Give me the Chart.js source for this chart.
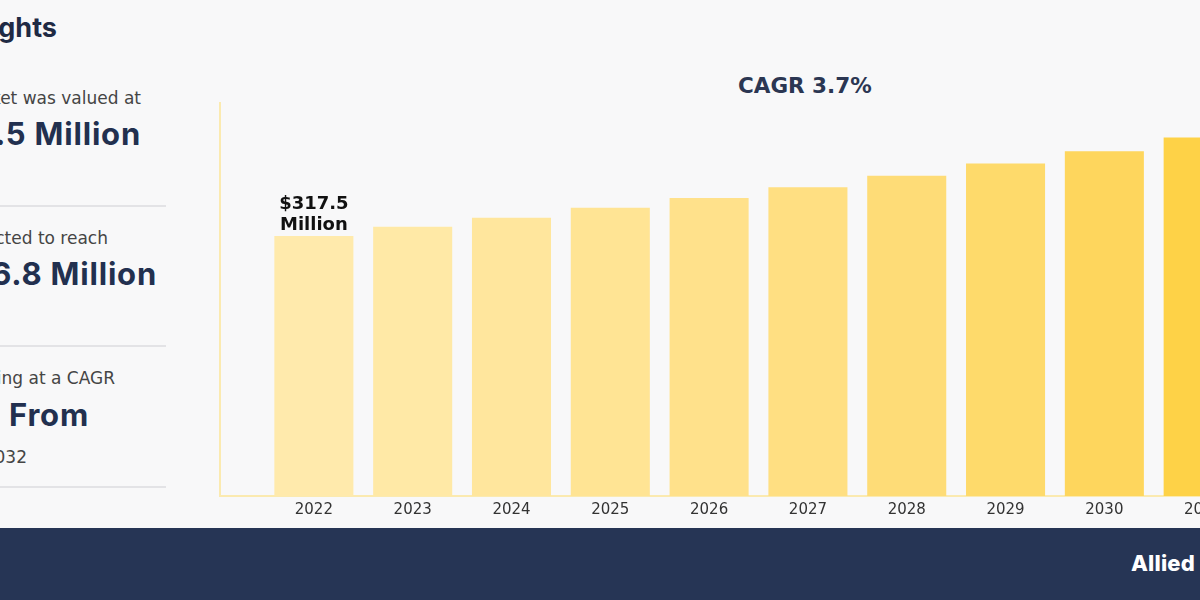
<!DOCTYPE html>
<html>
<head>
<meta charset="utf-8">
<script src="https://cdn.jsdelivr.net/npm/chart.js@4.4.1/dist/chart.umd.min.js"></script>
<style>
  html, body { margin: 0; padding: 0; }
  body { width: 1200px; height: 600px; overflow: hidden; position: relative; background: #f8f8f9; font-family: 'Inter', 'Open Sans', sans-serif; }
  .txt { position: absolute; white-space: nowrap; text-align: right; }
  .title { font-size: 27px; font-weight: 700; color: #1f2a44; }
  .lbl { font-size: 17px; color: #454545; font-family: 'DejaVu Sans', sans-serif; }
  .big { font-size: 31px; font-weight: 700; color: #22304f; letter-spacing: 0.8px; }
  .sep { position: absolute; left: 0; width: 166px; height: 2px; background: #e3e3e6; }
  #chartBox { position: absolute; left: 172px; top: 60px; width: 1128px; height: 464px; }
  #cagr { position: absolute; left: 738px; top: 73px; font-family: 'DejaVu Sans', sans-serif; font-weight: 700; font-size: 21.5px; color: #2b3652; }
  #footer { position: absolute; left: 0; top: 528px; width: 1200px; height: 72px; background: #263555; }
  #brand { position: absolute; right: 5px; top: 22px; color: #fff; font-weight: 800; font-size: 22px; font-family: 'Inter', sans-serif; letter-spacing: 0.2px; }
</style>
</head>
<body>
<div class="txt title" style="right:1143px; top:11px;">Key Market Insights</div>
<div class="txt lbl" style="right:1059px; top:88px;">The market was valued at</div>
<div class="txt big" style="right:1059px; top:115px;">$317.5 Million</div>
<div class="sep" style="top:205px;"></div>
<div class="txt lbl" style="right:1092px; top:228px;">and is projected to reach</div>
<div class="txt big" style="right:1043px; top:255px;">$456.8 Million</div>
<div class="sep" style="top:345px;"></div>
<div class="txt lbl" style="right:1085px; top:368px;">growing at a CAGR</div>
<div class="txt big" style="right:1111px; top:396px;">3.7% From</div>
<div class="txt lbl" style="right:1173px; top:447px;">2023 to 2032</div>
<div class="sep" style="top:486px;"></div>

<div id="cagr">CAGR 3.7%</div>
<div id="chartBox"><canvas id="c"></canvas></div>

<div id="footer"><div id="brand">Allied</div></div>

<script>
const years = [2022, 2023, 2024, 2025, 2026, 2027, 2028, 2029, 2030, 2031];
const marketValue = [317.5, 329, 340, 352, 364, 377, 391, 406, 421, 438];
const barColors = ['#ffeaac', '#ffe9a6', '#ffe69d', '#ffe494', '#ffe18b', '#ffdf82', '#fedc77', '#feda6b', '#fed65d', '#fed247'];
const firstLabel = ['$317.5', 'Million'];

const labelPlugin = {
  id: 'firstLabel',
  afterDatasetsDraw(chart) {
    const bar = chart.getDatasetMeta(0).data[0];
    const ctx = chart.ctx;
    ctx.save();
    ctx.font = 'bold 18px "DejaVu Sans"';
    ctx.fillStyle = '#111';
    ctx.textAlign = 'center';
    ctx.textBaseline = 'bottom';
    ctx.fillText(firstLabel[0], bar.x, bar.y - 23);
    ctx.fillText(firstLabel[1], bar.x, bar.y - 2);
    ctx.restore();
  }
};

new Chart(document.getElementById('c'), {
  type: 'bar',
  data: {
    datasets: [{
      data: years.map((y, i) => ({ x: y, y: marketValue[i] })),
      backgroundColor: barColors,
      borderWidth: 0,
      categoryPercentage: 1,
      barPercentage: 0.8
    }]
  },
  options: {
    responsive: true,
    maintainAspectRatio: false,
    animation: false,
    layout: { padding: { left: 48, right: 0, top: 43, bottom: 0 } },
    plugins: { legend: { display: false }, tooltip: { enabled: false } },
    scales: {
      x: {
        type: 'linear',
        offset: false,
        min: 2021.05,
        max: 2031.98,
        afterBuildTicks(axis) { axis.ticks = years.map(v => ({ value: v })); },
        grid: { display: false, drawTicks: false, offset: false },
        border: { color: '#fbeab0', width: 2 },
        ticks: {
          padding: 5,
          color: '#333',
          font: { family: 'DejaVu Sans', size: 15 },
          callback: v => String(v)
        }
      },
      y: {
        min: 0,
        max: 480,
        grid: { display: false, drawTicks: false },
        border: { color: '#fbeab0', width: 2 },
        ticks: { display: false }
      }
    }
  },
  plugins: [labelPlugin]
});
</script>
</body>
</html>
